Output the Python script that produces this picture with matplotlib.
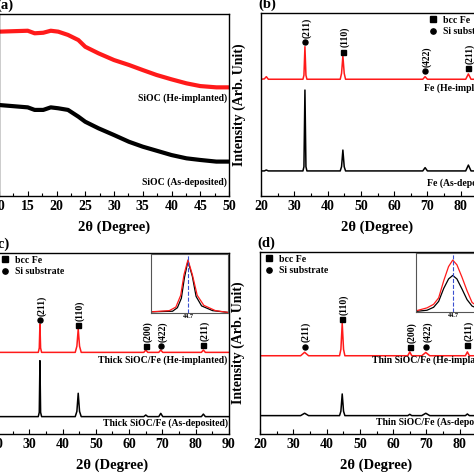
import matplotlib
matplotlib.use("Agg")
import matplotlib.pyplot as plt
from matplotlib.lines import Line2D
from matplotlib.ticker import MultipleLocator

plt.rcParams["font.family"] = ["Liberation Serif", "DejaVu Serif"]
plt.rcParams["font.weight"] = "bold"

RED = "#ff1a1a"

# ---- (a) amorphous SiOC, two broad humps ----
A_X = [10, 15, 16.2, 17.7, 19, 20.3, 22, 23.8, 25, 27.3, 30, 32.6, 35, 37.4, 40, 42.6, 45, 47.8, 50]
A_RED = [90.3, 90.8, 89.4, 89.7, 90.8, 90.3, 88.5, 85.7, 82.0, 78.4, 74.7, 72.0, 69.2, 66.5, 64.1, 61.9, 60.4, 59.7, 59.7]
A_BLACK = [50.0, 48.7, 47.3, 47.3, 48.7, 48.2, 47.3, 43.6, 40.8, 37.2, 33.5, 29.8, 27.1, 24.9, 22.5, 20.7, 19.8, 18.9, 18.9]

# ---- (b) Fe ----
B_X = [20, 21, 21.6, 22.2, 32.6, 32.9, 33.2, 33.5, 33.8, 43.8, 44.2, 44.6, 45.0, 45.4,
       68.6, 69.3, 70.0, 81.5, 82.3, 83.1, 90]
B_RED = [63.8, 64.0, 65.2, 63.8, 63.8, 66.0, 81.6, 66.0, 63.8, 63.8, 67.0, 76.5, 67.0, 63.8,
         63.8, 65.2, 63.8, 63.8, 66.7, 63.8, 63.8]
B_BLACK = [13.7, 13.7, 14.2, 13.7, 13.7, 16.0, 57.9, 16.0, 13.7, 13.7, 16.0, 25.1, 16.0, 13.7,
           13.7, 15.5, 13.7, 13.7, 16.9, 13.7, 13.7]
B_PEAK_X = [33.2, 44.6, 69.3, 82.3]
B_PEAK_Y = [84.3, 78.9, 68.3, 69.8]
B_PEAK_PHASE = ["Si", "Fe", "Si", "Fe"]
B_PEAK_HKL = ["(211)", "(110)", "(422)", "(211)"]

# ---- (c) thick SiOC/Fe ----
C_X = [20, 32.7, 33.0, 33.2, 33.4, 33.7, 43.8, 44.3, 44.7, 45.1, 45.6,
       64.4, 65.0, 65.6, 68.9, 69.5, 70.1, 81.7, 82.3, 82.9, 90]
C_RED = [45.1, 45.1, 47.5, 60.8, 47.5, 45.1, 45.1, 48.5, 58.0, 48.5, 45.1,
         45.1, 46.4, 45.1, 45.1, 46.4, 45.1, 45.1, 46.4, 45.1, 45.1]
C_BLACK = [9.6, 9.6, 12.0, 40.5, 12.0, 9.6, 9.6, 12.5, 22.5, 12.5, 9.6,
           9.6, 10.5, 9.6, 9.6, 11.4, 9.6, 9.6, 11.0, 9.6, 9.6]
C_PEAK_X = [33.2, 44.7, 65.0, 69.5, 82.3]
C_PEAK_Y = [63.1, 60.2, 48.5, 48.5, 49.2]
C_PEAK_PHASE = ["Si", "Fe", "Fe", "Si", "Fe"]
C_PEAK_HKL = ["(211)", "(110)", "(200)", "(422)", "(211)"]

# ---- (d) thin SiOC/Fe ----
D_X = [20, 32.2, 33.4, 34.6, 43.9, 44.3, 44.7, 45.1, 45.5,
       64.4, 65.0, 65.6, 68.6, 69.8, 71.0, 81.7, 82.3, 82.9, 90]
D_RED = [43.0, 43.0, 44.9, 43.0, 43.0, 46.5, 60.8, 46.5, 43.0,
         43.0, 45.1, 43.0, 43.0, 44.8, 43.0, 43.0, 45.1, 43.0, 43.0]
D_BLACK = [10.1, 10.1, 11.4, 10.1, 10.1, 12.5, 22.0, 12.5, 10.1,
           10.1, 10.8, 10.1, 10.1, 11.4, 10.1, 10.1, 11.0, 10.1, 10.1]
D_PEAK_X = [33.4, 44.7, 65.0, 69.8, 82.3]
D_PEAK_Y = [48.0, 63.2, 47.6, 48.0, 48.9]
D_PEAK_PHASE = ["Si", "Fe", "Fe", "Si", "Fe"]
D_PEAK_HKL = ["(211)", "(110)", "(200)", "(422)", "(211)"]

# ---- insets: Fe (110) peak, normalised ----
INSET_C_X_RED = [43.0, 43.83, 44.13, 44.35, 44.5, 44.68, 44.88, 45.1, 45.4, 45.93, 46.5]
INSET_C_RED = [0.02, 0.04, 0.10, 0.30, 0.65, 0.90, 0.65, 0.30, 0.13, 0.04, 0.01]
INSET_C_X_BLACK = [43.0, 43.98, 44.2, 44.38, 44.52, 44.68, 44.88, 45.05, 45.3, 45.8, 46.5]
INSET_C_BLACK = [0.02, 0.03, 0.09, 0.25, 0.60, 0.88, 0.62, 0.28, 0.12, 0.04, 0.01]
INSET_D_X = [43.0, 43.5, 43.8, 44.03, 44.26, 44.48, 44.67, 44.86, 45.09, 45.32, 45.55, 46.0, 46.5]
INSET_D_RED = [0.02, 0.07, 0.13, 0.24, 0.53, 0.77, 0.88, 0.80, 0.59, 0.36, 0.16, 0.05, 0.02]
INSET_D_BLACK = [0.01, 0.03, 0.08, 0.18, 0.40, 0.56, 0.62, 0.56, 0.39, 0.21, 0.10, 0.03, 0.01]

W = H = 474.0


def px_axes(fig, left, top, width, height):
    return fig.add_axes([left / W, 1 - (top + height) / H, width / W, height / H])


def style_axes(ax, xlim, major, minor, label):
    ax.set_xlim(*xlim)
    ax.set_ylim(0, 100)
    ax.xaxis.set_major_locator(MultipleLocator(major))
    ax.xaxis.set_minor_locator(MultipleLocator(minor))
    ax.tick_params(axis="x", which="both", direction="in", top=False, labelsize=10, pad=3, width=0.8)
    ax.tick_params(axis="x", which="major", length=3.5)
    ax.tick_params(axis="x", which="minor", length=2.5)
    ax.tick_params(axis="y", left=False, labelleft=False)
    for s in ax.spines.values():
        s.set_linewidth(1.0)
    ax.set_xlabel("2θ (Degree)", fontsize=10.5, fontweight="bold", labelpad=5)
    ax.set_ylabel("Intensity (Arb. Unit)", fontsize=10, fontweight="bold")
    ax.yaxis.set_label_coords(-0.065, 0.5)
    ax.text(-0.01, 1.01, label, transform=ax.transAxes, ha="left", va="bottom", fontsize=10.5,
            fontweight="bold")


def draw_peaks(ax, xs, ys, phases, hkls):
    for x, y, ph, hkl in zip(xs, ys, phases, hkls):
        ax.plot([x], [y], marker="s" if ph == "Fe" else "o", ms=3.6, color="black", ls="")
        ax.annotate(hkl, (x, y), xytext=(1.2, 3), textcoords="offset points", rotation=90,
                    ha="center", va="bottom", fontsize=7, fontweight="bold")


def add_legend(ax, x0, y0):
    handles = [Line2D([], [], marker="s", ls="", color="black", ms=3.8),
               Line2D([], [], marker="o", ls="", color="black", ms=3.8)]
    ax.legend(handles, ["bcc Fe", "Si substrate"], loc="upper left", bbox_to_anchor=(x0, y0),
              frameon=False, borderpad=0, borderaxespad=0, handlelength=1.0, handletextpad=0.5,
              labelspacing=0.25, prop={"size": 7, "weight": "bold"})


def draw_inset(fig, left, top, xr, yr, xb, yb):
    ins = px_axes(fig, left, top, 77, 59)
    ins.plot(xb, yb, color="black", lw=0.9)
    ins.plot(xr, yr, color=RED, lw=0.9)
    ins.axvline(44.7, color="#3a4fd0", ls="--", lw=0.8)
    ins.set_xlim(43, 46.5)
    ins.set_ylim(0, 1)
    ins.set_xticks([44.7])
    ins.set_xticklabels(["44.7"])
    ins.tick_params(axis="x", direction="in", length=1.5, width=0.5, labelsize=4.5, pad=1)
    ins.tick_params(axis="y", left=False, labelleft=False)
    for s in ins.spines.values():
        s.set_linewidth(0.8)
        s.set_color("#555555")


fig = plt.figure(figsize=(4.74, 4.74), dpi=100)

# (a)
ax = px_axes(fig, -1, 14, 230, 182)
ax.plot(A_X, A_BLACK, color="black", lw=3.0, solid_joinstyle="round")
ax.plot(A_X, A_RED, color=RED, lw=3.0, solid_joinstyle="round")
style_axes(ax, (10, 50), 5, 2.5, "(a)")
ax.text(0.99, 53.8, "SiOC (He-implanted)", transform=ax.get_yaxis_transform(), ha="right", va="center",
        fontsize=7, fontweight="bold")
ax.text(0.99, 7.7, "SiOC (As-deposited)", transform=ax.get_yaxis_transform(), ha="right", va="center",
        fontsize=7, fontweight="bold")

# (b)
ax = px_axes(fig, 261, 13, 233, 183)
ax.plot(B_X, B_BLACK, color="black", lw=1.1)
ax.plot(B_X, B_RED, color=RED, lw=1.1)
draw_peaks(ax, B_PEAK_X, B_PEAK_Y, B_PEAK_PHASE, B_PEAK_HKL)
style_axes(ax, (20, 90), 10, 5, "(b)")
add_legend(ax, 0.718, 0.985)
ax.text(68.9, 59.0, "Fe (He-implanted)", ha="left", va="center", fontsize=7, fontweight="bold")
ax.text(69.8, 7.1, "Fe (As-deposited)", ha="left", va="center", fontsize=7, fontweight="bold")

# (c)
ax = px_axes(fig, -4, 253, 233, 181)
ax.plot(C_X, C_BLACK, color="black", lw=1.1)
ax.plot(C_X, C_RED, color=RED, lw=1.1)
draw_peaks(ax, C_PEAK_X, C_PEAK_Y, C_PEAK_PHASE, C_PEAK_HKL)
style_axes(ax, (20, 90), 10, 5, "(c)")
add_legend(ax, 0.017, 0.985)
ax.text(0.994, 40.5, "Thick SiOC/Fe (He-implanted)", transform=ax.get_yaxis_transform(), ha="right",
        va="center", fontsize=7, fontweight="bold")
ax.text(0.994, 5.9, "Thick SiOC/Fe (As-deposited)", transform=ax.get_yaxis_transform(), ha="right",
        va="center", fontsize=7, fontweight="bold")
draw_inset(fig, 151, 254, INSET_C_X_RED, INSET_C_RED, INSET_C_X_BLACK, INSET_C_BLACK)

# (d)
ax = px_axes(fig, 260, 252, 233, 182)
ax.plot(D_X, D_BLACK, color="black", lw=1.1)
ax.plot(D_X, D_RED, color=RED, lw=1.1)
draw_peaks(ax, D_PEAK_X, D_PEAK_Y, D_PEAK_PHASE, D_PEAK_HKL)
style_axes(ax, (20, 90), 10, 5, "(d)")
add_legend(ax, 0.017, 0.985)
ax.text(0.482, 40.3, "Thin SiOC/Fe (He-implanted)", transform=ax.get_yaxis_transform(), ha="left",
        va="center", fontsize=7, fontweight="bold")
ax.text(0.497, 6.4, "Thin SiOC/Fe (As-deposited)", transform=ax.get_yaxis_transform(), ha="left",
        va="center", fontsize=7, fontweight="bold")
draw_inset(fig, 416, 253, INSET_D_X, INSET_D_RED, INSET_D_X, INSET_D_BLACK)

fig.savefig("out.png", dpi=100)
plt.close(fig)
